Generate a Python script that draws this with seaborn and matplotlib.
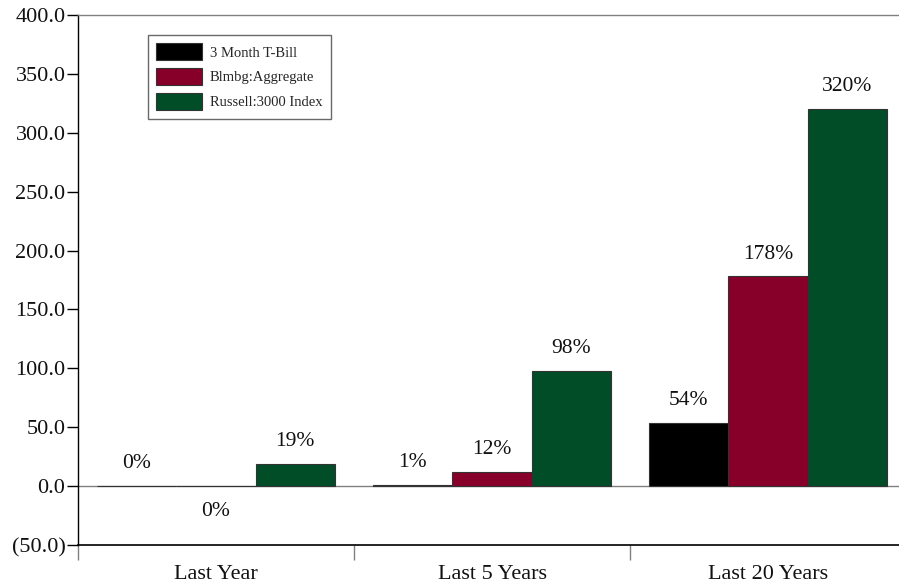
import matplotlib
matplotlib.use("Agg")
import matplotlib.pyplot as plt
from matplotlib.ticker import FuncFormatter, FixedLocator
import seaborn as sns
import pandas as pd

periods = ["Last Year", "Last 5 Years", "Last 20 Years"]
series = ["3 Month T-Bill", "Blmbg:Aggregate", "Russell:3000 Index"]
tbill = [0.4, 1.0, 54.0]
aggregate = [-0.3, 12.0, 178.0]
russell = [19.0, 98.0, 320.0]
colors = ["#000000", "#87002A", "#004D28"]
y_ticks = [-50, 0, 50, 100, 150, 200, 250, 300, 350, 400]

values = {series[0]: tbill, series[1]: aggregate, series[2]: russell}
df = pd.DataFrame(
    [(p, s, values[s][i]) for s in series for i, p in enumerate(periods)],
    columns=["period", "series", "value"],
)

sns.set_style("white")
plt.rcParams["font.family"] = ["Liberation Serif", "DejaVu Serif"]

fig = plt.figure(figsize=(8.99, 5.85), dpi=100)
ax = fig.add_axes([78 / 899, 40 / 585, 828 / 899, 530 / 585])

ax.axhline(0, color="#808080", lw=1.0, zorder=0)
sns.barplot(
    data=df, x="period", y="value", hue="series", order=periods,
    hue_order=series, palette=colors, saturation=1, width=0.86,
    edgecolor="#333333", linewidth=0.8, ax=ax, zorder=2,
)

# value labels above positive bars, below negative ones
for container, s in zip(ax.containers, series):
    for bar, v in zip(container, values[s]):
        cx = bar.get_x() + bar.get_width() / 2
        off = 16 if v >= 0 else -18
        ax.annotate(f"{round(v)}%", (cx, v), xytext=(0, off),
                    textcoords="offset points", ha="center", va="center",
                    fontsize=15.5, color="#111111")

ax.set_xlim(-0.5, 2.5)
ax.set_ylim(-50, 400)
ax.yaxis.set_major_locator(FixedLocator(y_ticks))
ax.yaxis.set_major_formatter(
    FuncFormatter(lambda v, _: f"({abs(v):.1f})" if v < 0 else f"{v:.1f}"))
ax.tick_params(axis="y", which="major", left=True, length=8, width=1,
               color="black", labelsize=16, pad=1, labelcolor="#111111")

ax.set_xticks([0, 1, 2])
ax.set_xticklabels(periods)
ax.set_xticks([-0.5, 0.5, 1.5], minor=True)
ax.tick_params(axis="x", which="major", bottom=False, length=0, pad=14.5,
               labelsize=16, labelcolor="#111111")
ax.tick_params(axis="x", which="minor", bottom=True, length=11, width=1,
               color="#808080")
ax.xaxis.get_minor_ticks()[0].tick1line.set_color("black")

ax.set_xlabel("")
ax.set_ylabel("")

ax.spines["right"].set_visible(False)
ax.spines["top"].set_color("#808080")
ax.spines["top"].set_linewidth(1)
ax.spines["left"].set_color("black")
ax.spines["left"].set_linewidth(1)
ax.spines["bottom"].set_color("black")
ax.spines["bottom"].set_linewidth(1.2)

leg = ax.legend(
    loc="upper left", bbox_to_anchor=(0.084, 0.963), frameon=True,
    fancybox=False, shadow=False, fontsize=10.5, handlelength=3.1,
    handleheight=1.4, handletextpad=0.55, labelspacing=0.55,
    borderpad=0.6, borderaxespad=0, title=None,
)
leg.get_frame().set_edgecolor("#444444")
leg.get_frame().set_linewidth(1)
for h in leg.legend_handles:
    h.set_edgecolor("#333333")

fig.savefig("out.png", dpi=100)
